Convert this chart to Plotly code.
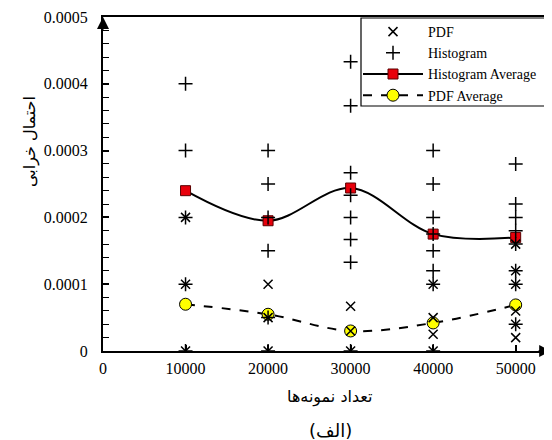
import plotly.graph_objects as go

# ---- data ----
x_vals = [10000, 20000, 30000, 40000, 50000]

pdf_x = [10000, 10000, 10000,
         20000, 20000, 20000,
         30000, 30000, 30000,
         40000, 40000, 40000, 40000,
         50000, 50000, 50000, 50000, 50000, 50000]
pdf_y = [0.0002, 0.0001, 0.0,
         0.0001, 0.00005, 0.0,
         0.000067, 0.00003, 0.0,
         0.0001, 0.00005, 0.000025, 0.0,
         0.00016, 0.00012, 0.0001, 0.00006, 0.00004, 0.00002]

hist_x = [10000, 10000, 10000, 10000, 10000,
          20000, 20000, 20000, 20000, 20000, 20000,
          30000, 30000, 30000, 30000, 30000, 30000, 30000, 30000,
          40000, 40000, 40000, 40000, 40000, 40000, 40000, 40000,
          50000, 50000, 50000, 50000, 50000, 50000, 50000, 50000]
hist_y = [0.0004, 0.0003, 0.0002, 0.0001, 0.0,
          0.0003, 0.00025, 0.0002, 0.00015, 0.00005, 0.0,
          0.000433, 0.000367, 0.000267, 0.000233, 0.0002, 0.000167, 0.000133, 0.0,
          0.0003, 0.00025, 0.0002, 0.000175, 0.00015, 0.00012, 0.0001, 0.0,
          0.00028, 0.00022, 0.0002, 0.00018, 0.00016, 0.00012, 0.0001, 0.00004]

hist_avg = [0.00024, 0.000195, 0.000244, 0.000175, 0.00017]
pdf_avg = [0.00007, 0.000055, 0.00003, 0.000042, 0.000069]

y_ticks = [0, 0.0001, 0.0002, 0.0003, 0.0004, 0.0005]
y_tick_text = ["0", "0.0001", "0.0002", "0.0003", "0.0004", "0.0005"]
x_ticks = [0, 10000, 20000, 30000, 40000, 50000]
x_tick_text = ["0", "10000", "20000", "30000", "40000", "50000"]

series_names = ["PDF", "Histogram", "Histogram Average", "PDF Average"]
y_title = "احتمال خرابی"
x_title = "تعداد نمونه‌ها"
caption = "(الف)"

SERIF = "Liberation Serif, Times New Roman, serif"
ARABIC = "DejaVu Sans, sans-serif"

# page body adds an 8px offset; figure is sized/placed to compensate
W, H = 544, 432
ML, MT, MB = 95, 9, 89
PW = W - ML          # plot width (449)
PH = H - MT - MB     # plot height (334)


def px_x(p):
    """figure-pixel x -> paper fraction"""
    return (p - ML) / PW


def px_y(p):
    """figure-pixel y -> paper fraction"""
    return (H - MB - p) / PH


fig = go.Figure()

fig.add_trace(go.Scatter(
    x=x_vals, y=hist_avg, mode="lines+markers", name=series_names[2],
    legendrank=3,
    line=dict(color="black", width=2, shape="spline", smoothing=1),
    marker=dict(symbol="square", size=10, color="#e8000b",
                line=dict(color="#5a0000", width=1)),
))
fig.add_trace(go.Scatter(
    x=x_vals, y=pdf_avg, mode="lines+markers", name=series_names[3],
    legendrank=4,
    line=dict(color="black", width=2, dash="dash", shape="spline", smoothing=1),
    marker=dict(symbol="circle", size=12, color="#ffff00",
                line=dict(color="black", width=1)),
))
fig.add_trace(go.Scatter(
    x=pdf_x, y=pdf_y, mode="markers", name=series_names[0],
    legendrank=1,
    marker=dict(symbol="x-thin-open", size=9, color="black",
                line=dict(color="black", width=1.5)),
))
fig.add_trace(go.Scatter(
    x=hist_x, y=hist_y, mode="markers", name=series_names[1],
    legendrank=2,
    marker=dict(symbol="cross-thin-open", size=10, color="black",
                line=dict(color="black", width=1.5)),
))

fig.update_layout(
    width=W, height=H,
    margin=dict(l=ML, r=0, t=MT, b=MB, pad=0),
    paper_bgcolor="white", plot_bgcolor="white",
    font=dict(family=SERIF, size=16, color="black"),
    showlegend=True,
    legend=dict(
        x=px_x(350), y=px_y(8), xanchor="left", yanchor="top",
        bgcolor="rgba(0,0,0,0)", borderwidth=0,
        font=dict(family=SERIF, size=14, color="black"),
        itemwidth=60, tracegroupgap=0,
    ),
    shapes=[dict(
        type="rect", xref="paper", yref="paper",
        x0=px_x(353), x1=1.2,
        y0=px_y(98), y1=px_y(10),
        line=dict(color="black", width=1.2), fillcolor="white", layer="above",
    )],
    xaxis=dict(
        range=[0, 54400], tickvals=x_ticks, ticktext=x_tick_text,
        showgrid=False, zeroline=False,
        showline=True, linecolor="black", linewidth=2, mirror=True,
        ticks="inside", ticklen=6, tickcolor="black", tickwidth=1.5,
        ticklabelstandoff=2,
        tickfont=dict(family=SERIF, size=16),
    ),
    yaxis=dict(
        range=[0, 0.0005], tickvals=y_ticks, ticktext=y_tick_text,
        showgrid=False, zeroline=False,
        showline=True, linecolor="black", linewidth=2,
        ticks="inside", ticklen=6, tickcolor="black", tickwidth=1.5,
        minor=dict(dtick=0.00002, ticks="inside", ticklen=6,
                   tickcolor="black", tickwidth=1.2, showgrid=False),
        ticklabelstandoff=10,
        tickfont=dict(family=SERIF, size=16),
    ),
    annotations=[
        dict(x=px_x(22), y=px_y(134), xref="paper", yref="paper",
             xanchor="center", yanchor="middle",
             text=y_title, textangle=-90, showarrow=False,
             font=dict(family=ARABIC, size=16, color="black")),
        dict(x=px_x(322), y=px_y(389), xref="paper", yref="paper",
             xanchor="center", yanchor="middle",
             text=x_title, showarrow=False,
             font=dict(family=ARABIC, size=16, color="black")),
        dict(x=px_x(322), y=px_y(422), xref="paper", yref="paper",
             xanchor="center", yanchor="middle",
             text=caption, showarrow=False,
             font=dict(family=ARABIC, size=18, color="black")),
        # axis arrowheads
        dict(x=54300, y=0, xref="x", yref="y", ax=-14, ay=0, text="",
             showarrow=True, arrowhead=2, arrowsize=1.2, arrowwidth=2,
             arrowcolor="black"),
        dict(x=0, y=0.0005, xref="x", yref="y", ax=0, ay=14, text="",
             showarrow=True, arrowhead=2, arrowsize=1.2, arrowwidth=2,
             arrowcolor="black"),
    ],
)

fig.write_html("out.html")
